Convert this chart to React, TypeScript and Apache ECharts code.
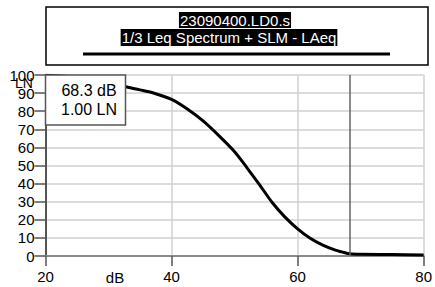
import React, { useEffect, useRef } from "react";
import * as echarts from "echarts";

const titleLine1 = "23090400.LD0.s";
const titleLine2 = "1/3 Leq Spectrum + SLM - LAeq";
const cursorLevel = 68.3;
const legendLines = ["68.3 dB", "1.00 LN"];
const xTicks = { min: 20, max: 80, interval: 20 };
const yTicks = { min: 0, max: 100, interval: 10 };
const levelsDb = [20, 25, 30, 32.5, 35, 37, 40, 42.5, 45, 47.5, 50, 52, 54, 56, 58, 60, 62, 64, 66, 67, 68.3, 70, 75, 80];
const lnValues = [99.8, 98.6, 95.8, 93.6, 91.8, 90.2, 86.5, 81.2, 74.6, 66.5, 57.6, 48.6, 39.2, 29.4, 21.5, 15.0, 9.8, 6.0, 3.2, 2.3, 1.2, 0.9, 0.8, 0.6];

const FONT = "Liberation Sans, Arial, Helvetica, sans-serif";

export default function App() {
  const ref = useRef<HTMLDivElement>(null);
  useEffect(() => {
    if (!ref.current) return;
    const chart = echarts.init(ref.current, undefined, { renderer: "svg" });
    const data = levelsDb.map((x, i) => [x, lnValues[i]]);
    chart.setOption({
      animation: false,
      backgroundColor: "#ffffff",
      textStyle: { fontFamily: FONT },
      grid: { left: 45.5, right: 8.3, top: 75, bottom: 31, containLabel: false },
      xAxis: {
        type: "value",
        min: xTicks.min,
        max: xTicks.max,
        interval: xTicks.interval,
        axisLine: { show: true, onZero: false, lineStyle: { color: "#8a8a8a", width: 2 } },
        axisTick: { show: true, length: 10, lineStyle: { color: "#555", width: 1.5 } },
        axisLabel: { color: "#000", fontSize: 15, margin: 13, fontFamily: FONT },
        splitLine: { show: true, lineStyle: { color: "#d0d0d0", width: 1.5 } },
      },
      yAxis: {
        type: "value",
        min: yTicks.min,
        max: yTicks.max,
        interval: yTicks.interval,
        axisLine: { show: true, lineStyle: { color: "#555", width: 2 } },
        axisTick: { show: true, length: 11, lineStyle: { color: "#555", width: 1.5 } },
        axisLabel: { color: "#000", fontSize: 15, margin: 11, fontFamily: FONT },
        splitLine: { show: true, lineStyle: { color: "#d0d0d0", width: 1.5 } },
      },
      series: [
        {
          type: "line",
          data,
          smooth: 0.3,
          showSymbol: false,
          lineStyle: { color: "#000", width: 3 },
          z: 3,
          markLine: {
            silent: true,
            symbol: "none",
            label: { show: false },
            lineStyle: { color: "#666", width: 1.5, type: "solid" },
            data: [{ xAxis: cursorLevel }],
          },
        },
      ],
      graphic: [
        {
          type: "rect",
          shape: { x: 46, y: 7, width: 382, height: 58 },
          style: { fill: "#fff", stroke: "#000", lineWidth: 1.5 },
          z: 10,
        },
        {
          type: "text",
          x: 235,
          y: 20,
          style: {
            text: titleLine1,
            fill: "#fff",
            backgroundColor: "#000",
            font: `15px ${FONT}`,
            align: "center",
            verticalAlign: "middle",
            padding: [1, 1, 0, 1],
          },
          z: 11,
        },
        {
          type: "text",
          x: 229,
          y: 37.5,
          style: {
            text: titleLine2,
            fill: "#fff",
            backgroundColor: "#000",
            font: `15px ${FONT}`,
            align: "center",
            verticalAlign: "middle",
            padding: [1, 1, 1, 1],
          },
          z: 11,
        },
        {
          type: "line",
          shape: { x1: 83, y1: 54, x2: 390, y2: 54 },
          style: { stroke: "#000", lineWidth: 3 },
          z: 11,
        },
        {
          type: "rect",
          shape: { x: 45.5, y: 75, width: 80, height: 50 },
          style: { fill: "#fff", stroke: "#555", lineWidth: 1.5 },
          z: 10,
        },
        {
          type: "text",
          x: 89,
          y: 90,
          style: { text: legendLines[0], fill: "#000", font: `16px ${FONT}`, align: "center", verticalAlign: "middle" },
          z: 11,
        },
        {
          type: "text",
          x: 89,
          y: 109,
          style: { text: legendLines[1], fill: "#000", font: `16px ${FONT}`, align: "center", verticalAlign: "middle" },
          z: 11,
        },
        {
          type: "text",
          x: 24,
          y: 83,
          style: { text: "LN", fill: "#000", font: `14px ${FONT}`, align: "center", verticalAlign: "middle" },
          z: 11,
        },
        {
          type: "text",
          x: 115,
          y: 277,
          style: { text: "dB", fill: "#000", font: `15px ${FONT}`, align: "center", verticalAlign: "middle" },
          z: 11,
        },
      ],
    });
    return () => chart.dispose();
  }, []);
  return <div ref={ref} style={{ position: "fixed", left: 0, top: 0, width: 435, height: 287 }} />;
}
